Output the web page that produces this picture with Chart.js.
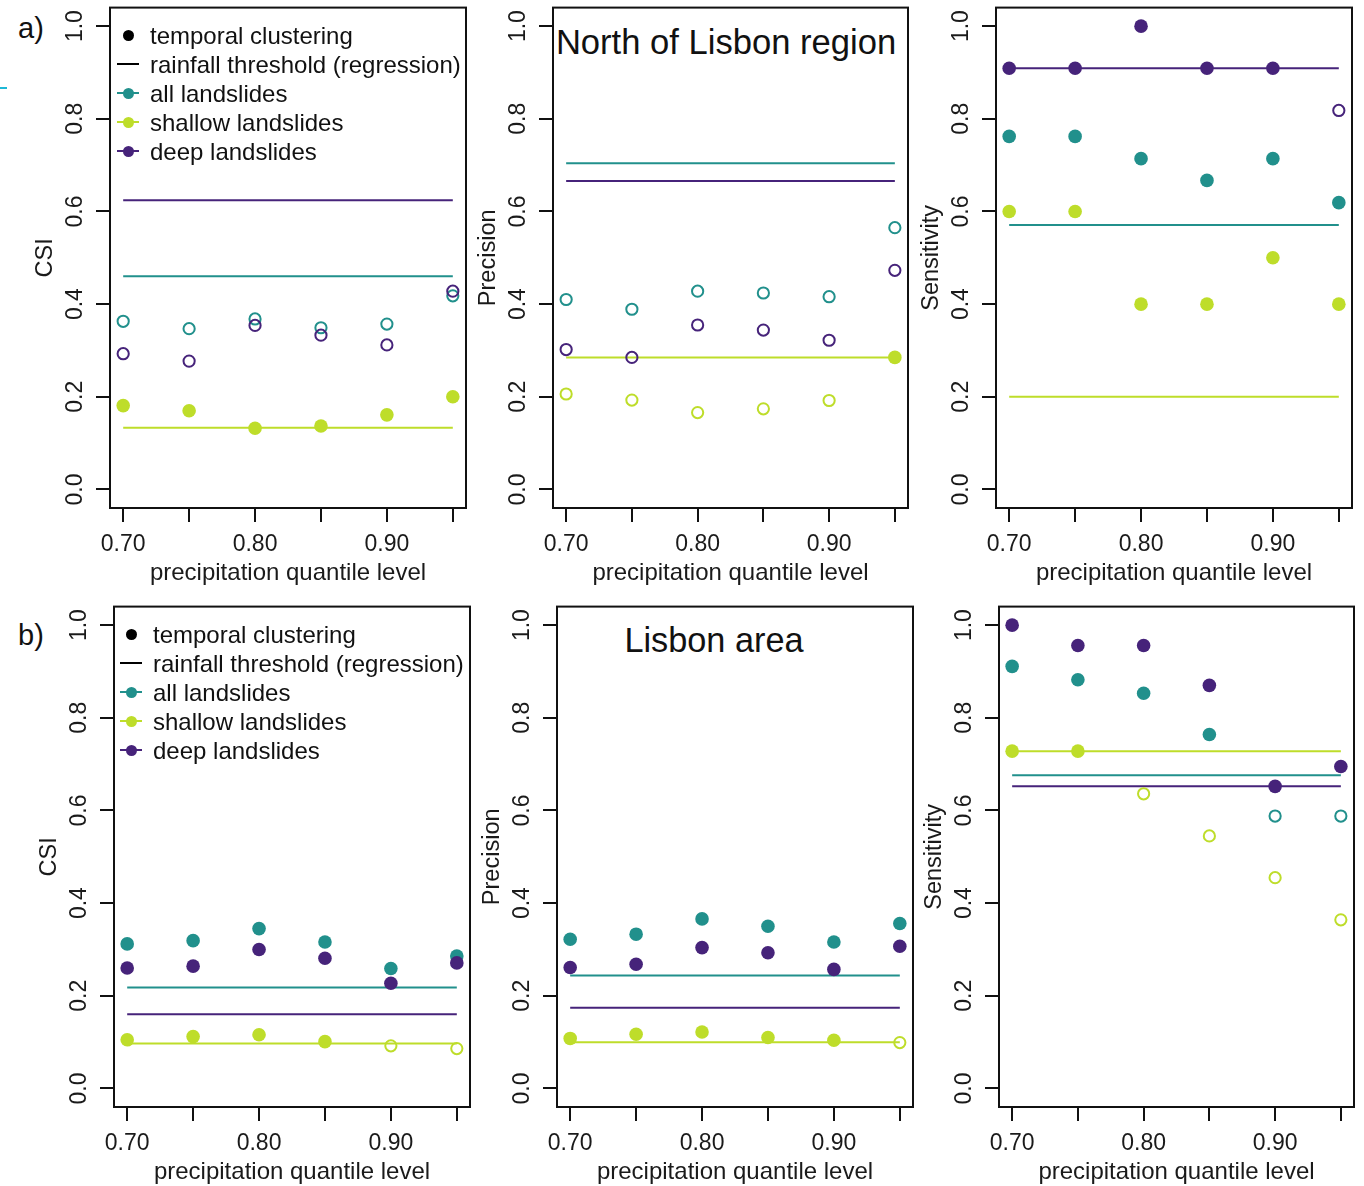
<!DOCTYPE html>
<html>
<head>
<meta charset="utf-8">
<script src="https://cdn.jsdelivr.net/npm/chart.js@4.4.1/dist/chart.umd.min.js"></script>
<style>
  html, body { margin: 0; padding: 0; background: #fff; overflow: hidden; }
  body { width: 1364px; height: 1186px; position: relative; font-family: "Liberation Sans", Arial, sans-serif; color: #111; }
  canvas { position: absolute; }
  .tag { position: absolute; font-size: 29px; line-height: 1; }
  .region { position: absolute; transform: translate(-50%, -50%); white-space: nowrap; line-height: 1; }
  .legend { position: absolute; font-size: 24px; }
  .legend div { position: relative; height: 29px; line-height: 29px; padding-left: 33px; white-space: nowrap; }
  .legend .ln { position: absolute; left: 0; top: 13.5px; width: 22px; height: 2px; padding: 0; }
  .legend .dt { position: absolute; left: 6px; top: 9px; width: 11px; height: 11px; border-radius: 50%; padding: 0; }
  .stray { position: absolute; left: 0; top: 87px; width: 7px; height: 2px; background: #1fb8d6; }
</style>
</head>
<body>
<div class="stray"></div>
<div class="tag" style="left:18px; top:14px;">a)</div>
<div class="tag" style="left:18px; top:621px;">b)</div>
<div class="region" style="left:726px; top:42px; font-size:34.6px;">North of Lisbon region</div>
<div class="region" style="left:714px; top:640px; font-size:34.3px;">Lisbon area</div>

<canvas id="a1"></canvas>
<canvas id="a2"></canvas>
<canvas id="a3"></canvas>
<canvas id="b1"></canvas>
<canvas id="b2"></canvas>
<canvas id="b3"></canvas>

<div class="legend" id="legend-a" style="left:117px; top:20.5px;"></div>
<div class="legend" id="legend-b" style="left:120px; top:619.5px;"></div>

<script>
const QUANTILES = [0.70, 0.75, 0.80, 0.85, 0.90, 0.95];
const X_LABELED = [0.70, 0.80, 0.90];
const Y_TICKS = [0, 0.2, 0.4, 0.6, 0.8, 1.0];
const GROUPS = ["all landslides", "shallow landslides", "deep landslides"];
const GROUP_COLORS = ["#21908C", "#BEDD2A", "#46237A"];

// a) North of Lisbon region -- order inside *_THRESH and *_FILLED: all, shallow, deep
// filled marker = temporal clustering at least as good as the regression threshold
const A_CSI_ALL = [0.363, 0.347, 0.368, 0.349, 0.357, 0.418];
const A_CSI_SHALLOW = [0.181, 0.170, 0.132, 0.137, 0.161, 0.200];
const A_CSI_DEEP = [0.293, 0.277, 0.354, 0.333, 0.312, 0.428];
const A_CSI_THRESH = [0.460, 0.133, 0.624];
const A_CSI_FILLED = [[0, 0, 0, 0, 0, 0], [1, 1, 1, 1, 1, 1], [0, 0, 0, 0, 0, 0]];

const A_PREC_ALL = [0.410, 0.389, 0.428, 0.424, 0.416, 0.565];
const A_PREC_SHALLOW = [0.206, 0.193, 0.166, 0.174, 0.192, 0.285];
const A_PREC_DEEP = [0.302, 0.285, 0.355, 0.344, 0.322, 0.473];
const A_PREC_THRESH = [0.704, 0.285, 0.666];
const A_PREC_FILLED = [[0, 0, 0, 0, 0, 0], [0, 0, 0, 0, 0, 1], [0, 0, 0, 0, 0, 0]];

const A_SENS_ALL = [0.762, 0.762, 0.714, 0.667, 0.714, 0.619];
const A_SENS_SHALLOW = [0.600, 0.600, 0.400, 0.400, 0.500, 0.400];
const A_SENS_DEEP = [0.909, 0.909, 1.000, 0.909, 0.909, 0.818];
const A_SENS_THRESH = [0.571, 0.200, 0.909];
const A_SENS_FILLED = [[1, 1, 1, 1, 1, 1], [1, 1, 1, 1, 1, 1], [1, 1, 1, 1, 1, 0]];

// b) Lisbon area
const B_CSI_ALL = [0.312, 0.319, 0.345, 0.316, 0.259, 0.286];
const B_CSI_SHALLOW = [0.105, 0.112, 0.116, 0.101, 0.092, 0.086];
const B_CSI_DEEP = [0.260, 0.264, 0.300, 0.281, 0.227, 0.271];
const B_CSI_THRESH = [0.218, 0.097, 0.160];
const B_CSI_FILLED = [[1, 1, 1, 1, 1, 1], [1, 1, 1, 1, 0, 0], [1, 1, 1, 1, 1, 1]];

const B_PREC_ALL = [0.322, 0.333, 0.366, 0.350, 0.316, 0.356];
const B_PREC_SHALLOW = [0.108, 0.117, 0.122, 0.110, 0.104, 0.099];
const B_PREC_DEEP = [0.261, 0.268, 0.304, 0.293, 0.257, 0.307];
const B_PREC_THRESH = [0.244, 0.100, 0.174];
const B_PREC_FILLED = [[1, 1, 1, 1, 1, 1], [1, 1, 1, 1, 1, 0], [1, 1, 1, 1, 1, 1]];

const B_SENS_ALL = [0.911, 0.882, 0.853, 0.764, 0.588, 0.588];
const B_SENS_SHALLOW = [0.728, 0.728, 0.636, 0.545, 0.455, 0.364];
const B_SENS_DEEP = [1.000, 0.956, 0.956, 0.870, 0.652, 0.695];
const B_SENS_THRESH = [0.676, 0.728, 0.652];
const B_SENS_FILLED = [[1, 1, 1, 1, 0, 0], [1, 1, 0, 0, 0, 0], [1, 1, 1, 1, 1, 1]];

// plot boxes in page pixels
const PANELS = [
  { id: "a1", left: 110, right: 466, top: 5, bottom: 508, yTitle: "CSI", series: [A_CSI_ALL, A_CSI_SHALLOW, A_CSI_DEEP], thresh: A_CSI_THRESH, filled: A_CSI_FILLED },
  { id: "a2", left: 553, right: 908, top: 5, bottom: 508, yTitle: "Precision", series: [A_PREC_ALL, A_PREC_SHALLOW, A_PREC_DEEP], thresh: A_PREC_THRESH, filled: A_PREC_FILLED },
  { id: "a3", left: 996, right: 1352, top: 5, bottom: 508, yTitle: "Sensitivity", series: [A_SENS_ALL, A_SENS_SHALLOW, A_SENS_DEEP], thresh: A_SENS_THRESH, filled: A_SENS_FILLED },
  { id: "b1", left: 114, right: 470, top: 604, bottom: 1107, yTitle: "CSI", series: [B_CSI_ALL, B_CSI_SHALLOW, B_CSI_DEEP], thresh: B_CSI_THRESH, filled: B_CSI_FILLED },
  { id: "b2", left: 557, right: 913, top: 604, bottom: 1107, yTitle: "Precision", series: [B_PREC_ALL, B_PREC_SHALLOW, B_PREC_DEEP], thresh: B_PREC_THRESH, filled: B_PREC_FILLED },
  { id: "b3", left: 999, right: 1354, top: 604, bottom: 1107, yTitle: "Sensitivity", series: [B_SENS_ALL, B_SENS_SHALLOW, B_SENS_DEEP], thresh: B_SENS_THRESH, filled: B_SENS_FILLED },
];

const Y_AXIS_W = 110;
const X_AXIS_H = 80;
const PAD_TOP = 5;
const PAD_RIGHT = 8;
const FONT = "'Liberation Sans', Arial, sans-serif";
const TEXT = "#1a1a1a";

const framePlugin = {
  id: "frame",
  afterDraw(chart) {
    const { ctx, chartArea: a } = chart;
    ctx.save();
    ctx.strokeStyle = "#111";
    ctx.lineWidth = 2;
    ctx.strokeRect(a.left, a.top, a.right - a.left, a.bottom - a.top);
    ctx.restore();
  },
};

function pointDataset(values, filled, color) {
  return {
    data: values.map((v, i) => ({ x: QUANTILES[i], y: v })),
    showLine: false,
    pointRadius: filled.map((f) => (f ? 6.8 : 5.6)),
    pointHoverRadius: filled.map((f) => (f ? 6.8 : 5.6)),
    pointBorderWidth: filled.map((f) => (f ? 0 : 2)),
    pointBackgroundColor: filled.map((f) => (f ? color : "rgba(0,0,0,0)")),
    pointBorderColor: color,
    clip: false,
    order: 0,
  };
}

function thresholdDataset(value, color) {
  return {
    data: [{ x: QUANTILES[0], y: value }, { x: QUANTILES[QUANTILES.length - 1], y: value }],
    showLine: true,
    borderColor: color,
    borderWidth: 2,
    pointRadius: 0,
    order: 1,
  };
}

function axisGrid() {
  return { drawOnChartArea: false, drawTicks: true, tickLength: 14, tickColor: "#111", lineWidth: 2 };
}

function buildPanel(p) {
  const canvas = document.getElementById(p.id);
  canvas.width = Y_AXIS_W + (p.right - p.left) + PAD_RIGHT;
  canvas.height = PAD_TOP + (p.bottom - p.top) + X_AXIS_H;
  canvas.style.left = (p.left - Y_AXIS_W) + "px";
  canvas.style.top = (p.top - PAD_TOP) + "px";

  // deep drawn on top, as in the original
  const datasets = [];
  for (const g of [2, 1, 0]) datasets.push(pointDataset(p.series[g], p.filled[g], GROUP_COLORS[g]));
  for (const g of [2, 1, 0]) datasets.push(thresholdDataset(p.thresh[g], GROUP_COLORS[g]));

  new Chart(canvas, {
    type: "scatter",
    data: { datasets },
    plugins: [framePlugin],
    options: {
      responsive: false,
      animation: false,
      devicePixelRatio: 1,
      layout: { padding: { top: PAD_TOP, right: PAD_RIGHT, left: 0, bottom: 0 } },
      plugins: { legend: { display: false }, tooltip: { enabled: false } },
      scales: {
        x: {
          type: "linear",
          min: 0.69,
          max: 0.96,
          afterBuildTicks: (s) => { s.ticks = QUANTILES.map((v) => ({ value: v })); },
          afterFit: (s) => { s.height = X_AXIS_H; s.paddingLeft = 0; s.paddingRight = 0; },
          border: { display: false },
          grid: axisGrid(),
          ticks: {
            autoSkip: false,
            maxRotation: 0,
            padding: 9,
            color: TEXT,
            font: { family: FONT, size: 23 },
            callback: (v) => (X_LABELED.some((q) => Math.abs(q - v) < 1e-9) ? v.toFixed(2) : ""),
          },
          title: { display: true, text: "precipitation quantile level", color: TEXT, font: { family: FONT, size: 24 }, padding: { top: 0, bottom: 0 } },
        },
        y: {
          type: "linear",
          min: -0.04,
          max: 1.04,
          afterBuildTicks: (s) => { s.ticks = Y_TICKS.map((v) => ({ value: v })); },
          afterFit: (s) => { s.width = Y_AXIS_W; s.paddingTop = 0; s.paddingBottom = 0; },
          border: { display: false },
          grid: axisGrid(),
          ticks: {
            minRotation: 90,
            maxRotation: 90,
            crossAlign: "center",
            padding: 4,
            color: TEXT,
            font: { family: FONT, size: 23 },
            callback: (v) => v.toFixed(1),
          },
          title: { display: true, text: p.yTitle, color: TEXT, font: { family: FONT, size: 23.5 }, padding: { top: 31, bottom: 0 } },
        },
      },
    },
  });
}

PANELS.forEach(buildPanel);

function buildLegend(id) {
  const box = document.getElementById(id);
  const rows = [`<div><span class="dt" style="background:#000"></span>temporal clustering</div>`,
    `<div><span class="ln" style="background:#000"></span>rainfall threshold (regression)</div>`];
  GROUPS.forEach((name, g) => {
    rows.push(`<div><span class="ln" style="background:${GROUP_COLORS[g]}"></span><span class="dt" style="background:${GROUP_COLORS[g]}"></span>${name}</div>`);
  });
  box.innerHTML = rows.join("");
}

buildLegend("legend-a");
buildLegend("legend-b");
</script>
</body>
</html>
